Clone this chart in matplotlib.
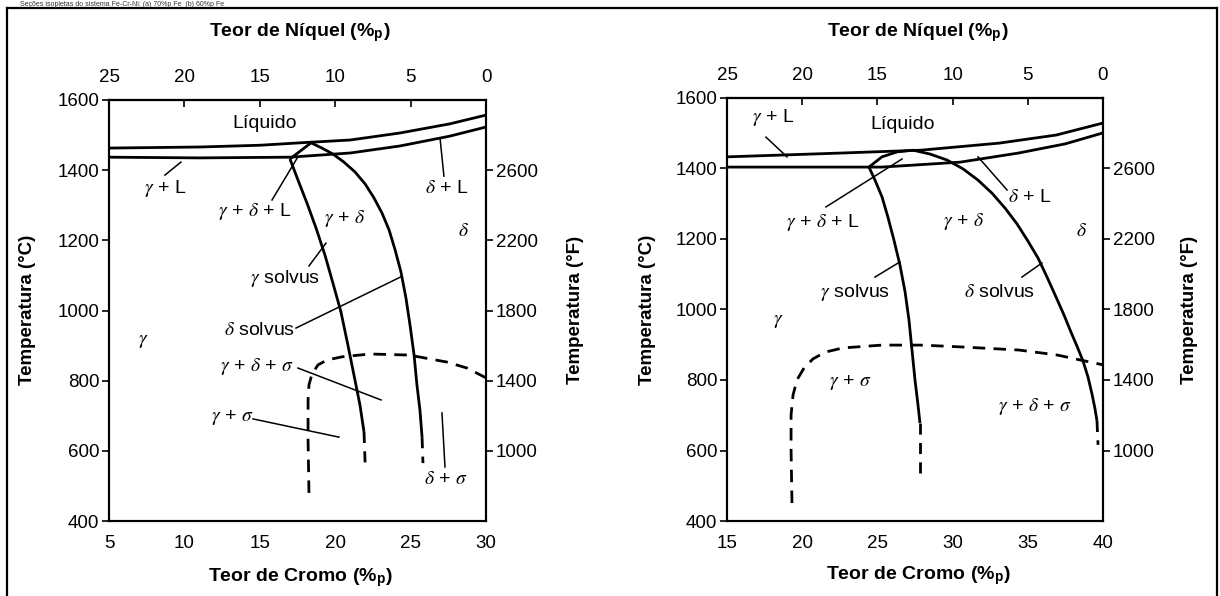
import matplotlib

matplotlib.use("Agg")
import matplotlib.pyplot as plt
from matplotlib.lines import Line2D

plt.rcParams["font.family"] = ["Liberation Sans", "DejaVu Sans"]
plt.rcParams["mathtext.fontset"] = "custom"
plt.rcParams["mathtext.rm"] = "Liberation Sans"
plt.rcParams["mathtext.it"] = "STIXGeneral:italic"
plt.rcParams["mathtext.bf"] = "Liberation Sans:bold"

# ---------------- data (a): 70 %p Fe  (Cr + Ni = 30) ----------------
a_total = 30
a_xlim = (5, 30)
a_liq_cr = [5, 11.0, 15.0, 17.7, 21.0, 24.3, 27.6, 30]
a_liq_t = [1463, 1466, 1471, 1478, 1486, 1506, 1532, 1557]
a_sol_cr = [5, 11.0, 17.0, 21.0, 24.3, 27.6, 30]
a_sol_t = [1437, 1435, 1437, 1449, 1469, 1497, 1523]
a_tri_cr = [17.0, 18.4]
a_tri_t = [1432, 1478]
a_gsolv_cr = [17.0, 17.53, 18.13, 18.73, 19.32, 19.85, 20.38, 20.84, 21.31, 21.64, 21.91]
a_gsolv_t = [1432, 1372, 1306, 1235, 1158, 1078, 996, 902, 802, 731, 654]
a_gsolv_end_cr = [21.91, 22.0]
a_gsolv_end_t = [654, 545]
a_dsolv_cr = [18.4, 19.12, 19.85, 20.58, 21.31, 21.98, 22.57, 23.10, 23.57, 23.97,
              24.36, 24.69, 24.96, 25.23, 25.42, 25.62, 25.76]
a_dsolv_t = [1478, 1463, 1446, 1423, 1395, 1361, 1321, 1278, 1230, 1173,
             1110, 1036, 959, 873, 788, 716, 639]
a_dsolv_end_cr = [25.76, 25.82]
a_dsolv_end_t = [639, 565]
a_sigma_cr = [18.26, 18.2, 18.2, 18.26, 18.46, 18.86, 19.46, 20.45, 22.31, 24.89,
              27.41, 28.74, 30]
a_sigma_t = [480, 631, 745, 788, 819, 845, 859, 868, 876, 873, 853, 836, 808]

# ---------------- data (b): 60 %p Fe  (Cr + Ni = 40) ----------------
b_total = 40
b_xlim = (15, 40)
b_liq_cr = [15, 22.7, 27.9, 33.1, 36.9, 40]
b_liq_t = [1433, 1444, 1452, 1472, 1495, 1529]
b_sol_cr = [15, 25.3, 30.5, 34.4, 37.5, 40]
b_sol_t = [1404, 1404, 1418, 1444, 1470, 1501]
b_tri_cr = [24.44, 25.3, 26.3, 27.37]
b_tri_t = [1404, 1433, 1447, 1452]
b_gsolv_cr = [24.44, 24.84, 25.31, 25.70, 26.10, 26.50, 26.84, 27.10, 27.30, 27.50,
              27.70, 27.83]
b_gsolv_t = [1404, 1367, 1319, 1262, 1197, 1126, 1050, 970, 885, 800, 729, 678]
b_gsolv_end_cr = [27.83, 27.83]
b_gsolv_end_t = [678, 525]
b_dsolv_cr = [27.37, 28.50, 29.63, 30.69, 31.69, 32.62, 33.48, 34.28, 35.01, 35.68,
              36.28, 36.88, 37.41, 37.87, 38.27, 38.67, 39.00, 39.27, 39.47, 39.60]
b_dsolv_t = [1452, 1441, 1424, 1399, 1367, 1330, 1288, 1243, 1194, 1146,
             1092, 1035, 984, 936, 896, 854, 809, 760, 718, 684]
b_dsolv_end_cr = [39.60, 39.67]
b_dsolv_end_t = [684, 616]
b_sigma_cr = [19.32, 19.26, 19.26, 19.39, 19.65, 20.12, 20.72, 21.52, 22.71, 25.3,
              27.9, 30.49, 34.41, 36.94, 40]
b_sigma_t = [451, 601, 701, 757, 800, 834, 860, 879, 891, 899,
             899, 894, 885, 871, 843]

# axis ticks
celsius_ticks = [400, 600, 800, 1000, 1200, 1400, 1600]
fahr_pos = [1400, 1200, 1000, 800, 600]
fahr_labels = ["2600", "2200", "1800", "1400", "1000"]
ni_ticks = [25, 20, 15, 10, 5, 0]

# phase labels: (text, x, y, leader start, leader end)
a_labels = [
    ("Líquido", 15.3, 1532, None, None),
    (r"$\gamma$ + L", 8.7, 1349, (8.71, 1386), (9.77, 1423)),
    (r"$\gamma$ + $\delta$ + L", 14.7, 1281, (15.81, 1315), (17.53, 1438)),
    (r"$\delta$ + L", 27.4, 1349, (27.21, 1383), (26.95, 1492)),
    (r"$\gamma$ + $\delta$", 20.6, 1261, None, None),
    (r"$\delta$", 28.5, 1224, None, None),
    (r"$\gamma$ solvus", 16.7, 1090, (18.26, 1127), (19.39, 1192)),
    (r"$\delta$ solvus", 14.95, 944, (17.4, 950), (24.36, 1096)),
    (r"$\gamma$", 7.25, 913, None, None),
    (r"$\gamma$ + $\delta$ + $\sigma$", 14.8, 839, (17.53, 836), (23.04, 745)),
    (r"$\gamma$ + $\sigma$", 13.2, 694, (14.55, 691), (20.25, 639)),
    (r"$\delta$ + $\sigma$", 27.35, 517, (27.08, 708), (27.28, 554)),
]
b_labels = [
    ("Líquido", 26.7, 1526, None, None),
    (r"$\gamma$ + L", 18.06, 1546, (17.59, 1489), (18.99, 1433)),
    (r"$\gamma$ + $\delta$ + L", 21.4, 1248, (21.58, 1291), (26.64, 1427)),
    (r"$\delta$ + L", 35.15, 1319, (33.62, 1339), (31.69, 1433)),
    (r"$\gamma$ + $\delta$", 30.7, 1251, None, None),
    (r"$\delta$", 38.6, 1220, None, None),
    (r"$\gamma$ solvus", 23.5, 1047, (24.84, 1092), (26.5, 1135)),
    (r"$\delta$ solvus", 33.15, 1047, (34.61, 1092), (35.94, 1132)),
    (r"$\gamma$", 18.4, 965, None, None),
    (r"$\gamma$ + $\sigma$", 23.2, 794, None, None),
    (r"$\gamma$ + $\delta$ + $\sigma$", 35.5, 726, None, None),
]

W, H = 1220, 596
fig = plt.figure(figsize=(W / 100, H / 100), dpi=100)

LW = 2.0
SPINE = 1.5


def panel(rect, total, xlim, lines, dashed_ends, sigma, labels, xt):
    ax = fig.add_axes(rect)
    ax.set_xlim(*xlim)
    ax.set_ylim(400, 1600)
    for cr, t in lines:
        ax.plot(cr, t, color="black", lw=LW, solid_capstyle="butt",
                solid_joinstyle="round")
    for cr, t in dashed_ends:
        ax.plot(cr, t, color="black", lw=LW, dashes=(4, 3))
    ax.plot(sigma[0], sigma[1], color="black", lw=LW, dashes=(4.5, 3))

    for txt, x, y, p0, p1 in labels:
        ax.text(x, y, txt, fontsize=14, ha="center", va="center")
        if p0 is not None:
            ax.plot([p0[0], p1[0]], [p0[1], p1[1]], color="black", lw=1.1)

    for s in ax.spines.values():
        s.set_linewidth(SPINE)
    ax.set_xticks(xt)
    ax.set_yticks(celsius_ticks)
    ax.tick_params(axis="x", length=0, pad=10, labelsize=13.5)
    ax.tick_params(axis="y", direction="out", length=5, width=1.2, pad=2,
                   labelsize=13.5)

    sec = ax.secondary_xaxis("top", functions=(lambda c: total - c,
                                               lambda n: total - n))
    sec.set_xticks(ni_ticks)
    sec.tick_params(direction="in", length=5, width=1.2, pad=10, labelsize=13.5)
    sec.spines["top"].set_linewidth(SPINE)

    axr = ax.twinx()
    axr.set_ylim(400, 1600)
    axr.set_yticks(fahr_pos)
    axr.set_yticklabels(fahr_labels)
    axr.tick_params(direction="out", length=5, width=1.2, pad=2, labelsize=13.5)
    for s in axr.spines.values():
        s.set_linewidth(SPINE)
    return ax


def fx(px):
    return px / W


def fy(py):
    return 1 - py / H


rect_a = [fx(109), fy(521), fx(486 - 109), (521 - 100) / H]
rect_b = [fx(727), fy(521), fx(1103 - 727), (521 - 98) / H]

panel(
    rect_a, a_total, a_xlim,
    [(a_liq_cr, a_liq_t), (a_sol_cr, a_sol_t), (a_tri_cr, a_tri_t),
     (a_gsolv_cr, a_gsolv_t), (a_dsolv_cr, a_dsolv_t)],
    [(a_gsolv_end_cr, a_gsolv_end_t), (a_dsolv_end_cr, a_dsolv_end_t)],
    (a_sigma_cr, a_sigma_t), a_labels, [5, 10, 15, 20, 25, 30],
)
panel(
    rect_b, b_total, b_xlim,
    [(b_liq_cr, b_liq_t), (b_sol_cr, b_sol_t), (b_tri_cr, b_tri_t),
     (b_gsolv_cr, b_gsolv_t), (b_dsolv_cr, b_dsolv_t)],
    [(b_gsolv_end_cr, b_gsolv_end_t), (b_dsolv_end_cr, b_dsolv_end_t)],
    (b_sigma_cr, b_sigma_t), b_labels, [15, 20, 25, 30, 35, 40],
)

# axis titles
lab = dict(fontsize=14, fontweight="bold", ha="center", va="center")
ni_title = r"Teor de Níquel (%$_\mathbf{p}$)"
cr_title = r"Teor de Cromo (%$_\mathbf{p}$)"
fig.text(fx(300), fy(33), ni_title, **lab)
fig.text(fx(918), fy(33), ni_title, **lab)
fig.text(fx(300), fy(578), cr_title, **lab)
fig.text(fx(918), fy(576), cr_title, **lab)
lab["fontsize"] = 13.5
fig.text(fx(28), fy(310), "Temperatura (°C)", rotation=90, **lab)
fig.text(fx(575), fy(310), "Temperatura (°F)", rotation=90, **lab)
fig.text(fx(648), fy(310), "Temperatura (°C)", rotation=90, **lab)
fig.text(fx(1190), fy(310), "Temperatura (°F)", rotation=90, **lab)

# frame around the figure (top, left, right)
frame = dict(color="black", lw=1.6, transform=fig.transFigure)
fig.add_artist(Line2D([fx(7), fx(1217)], [fy(8), fy(8)], **frame))
fig.add_artist(Line2D([fx(7), fx(7)], [fy(8), 0], **frame))
fig.add_artist(Line2D([fx(1217), fx(1217)], [fy(8), 0], **frame))

# caption line above the frame (mostly cut off in the source)
fig.text(fx(20), fy(0.5), "Seções isopletas do sistema Fe-Cr-Ni: (a) 70%p Fe  (b) 60%p Fe",
         fontsize=5, ha="left", va="top", color="#333333")

fig.savefig("out.png", dpi=100)
